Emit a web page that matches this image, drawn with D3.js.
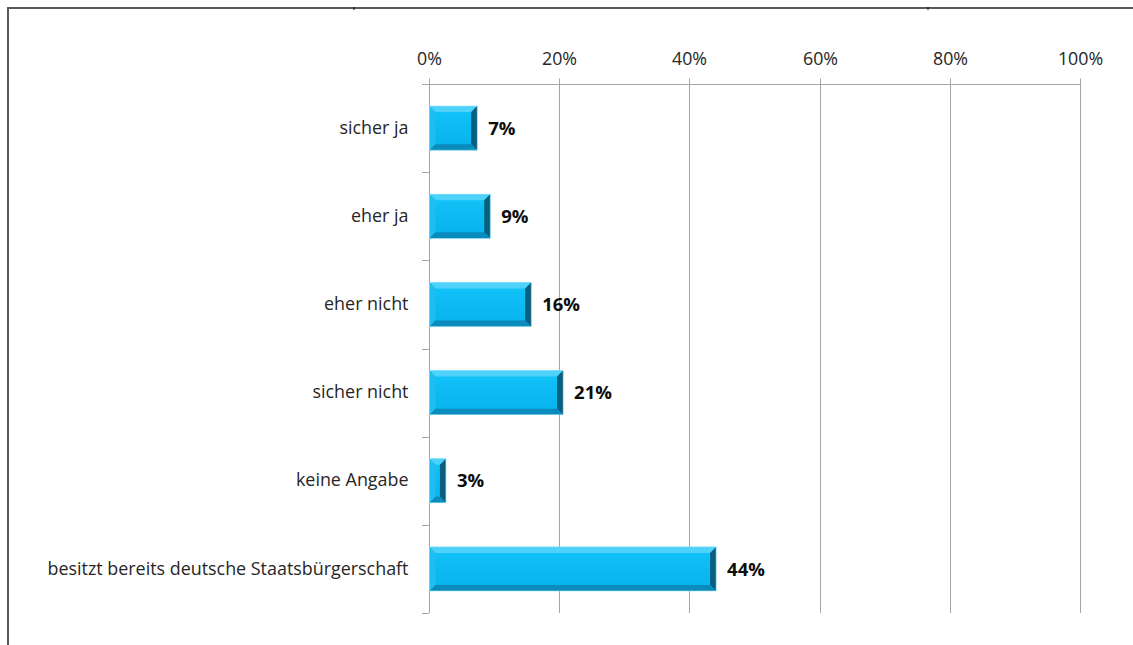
<!DOCTYPE html>
<html><head><meta charset="utf-8">
<script src="https://cdn.jsdelivr.net/npm/d3@7"></script>
<style>
html,body{margin:0;padding:0;background:#fff;}
svg{display:block;}
</style></head>
<body>
<svg id="chart" width="1133" height="645"></svg>
<script>
const categories = ["sicher ja","eher ja","eher nicht","sicher nicht","keine Angabe","besitzt bereits deutsche Staatsbürgerschaft"];
const values = [0.074, 0.094, 0.157, 0.206, 0.026, 0.441];
const valueLabels = ["7%","9%","16%","21%","3%","44%"];
const tickValues = [0, 0.2, 0.4, 0.6, 0.8, 1.0];
const tickLabels = ["0%","20%","40%","60%","80%","100%"];

const svg = d3.select("#chart");
const font = "'Open Sans', Lato, sans-serif";

// outer frame (top & left edges)
svg.append("line").attr("x1",7).attr("x2",1133).attr("y1",8).attr("y2",8).attr("stroke","#595959").attr("stroke-width",2);
svg.append("line").attr("x1",8).attr("x2",8).attr("y1",7).attr("y2",645).attr("stroke","#595959").attr("stroke-width",2);
[354, 928].forEach(x=>svg.append("line").attr("x1",x).attr("x2",x).attr("y1",7).attr("y2",10).attr("stroke","#111").attr("stroke-width",1));

const x = d3.scaleLinear().domain([0,1]).range([429,1080]);
const y = d3.scaleBand().domain(categories).range([84,613]).paddingInner(0.5).paddingOuter(0.25);
const band = d3.scaleBand().domain(categories).range([84,613]);

const defs = svg.append("defs");
const lg = defs.append("linearGradient").attr("id","face").attr("x1",0).attr("x2",0).attr("y1",0).attr("y2",1);
lg.append("stop").attr("offset","0%").attr("stop-color","#13C3F8");
lg.append("stop").attr("offset","100%").attr("stop-color","#06B2EC");

// gridlines
svg.append("g").selectAll("line").data(tickValues.slice(1)).join("line")
  .attr("x1",d=>Math.round(x(d))+0.5).attr("x2",d=>Math.round(x(d))+0.5)
  .attr("y1",84).attr("y2",613).attr("stroke","#A6A6A6").attr("stroke-width",1);

// top axis
const xAxis = d3.axisTop(x).tickValues(tickValues).tickFormat((d,i)=>tickLabels[i]).tickSize(6).tickPadding(14);
const gx = svg.append("g").attr("transform","translate(0,84.5)").call(xAxis);
gx.select(".domain").attr("stroke","#A6A6A6").attr("d","M422,0H1080");
gx.selectAll(".tick line").attr("stroke","#A6A6A6");
gx.selectAll(".tick").attr("transform",d=>`translate(${Math.round(x(d))+0.5},0)`);
gx.selectAll("text").attr("font-family",font).attr("font-size",17.8).attr("fill","#262626");

// left category axis
const yAxis = d3.axisLeft(y).tickSize(0).tickPadding(21);
const gy = svg.append("g").attr("transform","translate(429.5,0)").call(yAxis);
gy.select(".domain").attr("stroke","#A6A6A6").attr("d","M0,84V613");
gy.selectAll("text").attr("font-family",font).attr("font-size",17.9).attr("fill","#262626");
const bounds = categories.map(c=>band(c)).concat([613]);
svg.append("g").selectAll("line").data(bounds).join("line")
  .attr("x1",422).attr("x2",429).attr("y1",d=>Math.round(d)+0.5).attr("y2",d=>Math.round(d)+0.5)
  .attr("stroke","#A6A6A6");

// bevelled bars
const bars = svg.append("g").selectAll("g").data(categories).join("g");
bars.each(function(c,i){
  const g = d3.select(this);
  const x0 = x(0)+0.5, x1 = x(values[i]), y0 = y(c), y1 = y(c)+y.bandwidth();
  const w = x1-x0, h = y1-y0;
  const b = Math.min(6, w/2.2, h/3);
  g.append("rect").attr("x",x0).attr("y",y0).attr("width",w).attr("height",h).attr("fill","url(#face)");
  const poly = (pts,fill)=>g.append("polygon").attr("points",pts.map(p=>p.join(",")).join(" ")).attr("fill",fill);
  poly([[x0,y0],[x1,y0],[x1-b,y0+b],[x0+b,y0+b]],"#4FD2F9");
  poly([[x0,y0],[x0+b,y0+b],[x0+b,y1-b],[x0,y1]],"#1EBDF2");
  poly([[x1,y0],[x1,y1],[x1-b,y1-b],[x1-b,y0+b]],"#0B5E7E");
  poly([[x0,y1],[x0+b,y1-b],[x1-b,y1-b],[x1,y1]],"#0A8BBC");
  g.append("rect").attr("x",x0).attr("y",y0).attr("width",w).attr("height",h).attr("fill","none").attr("stroke","#8FE0F8").attr("stroke-width",0.6);
  g.append("text").attr("x",x1+11).attr("y",y0+h/2).attr("dy","0.36em")
    .attr("font-family",font).attr("font-size",18.5).attr("font-weight","bold").attr("fill","#0d0d0d")
    .text(valueLabels[i]);
});
</script>
</body></html>
